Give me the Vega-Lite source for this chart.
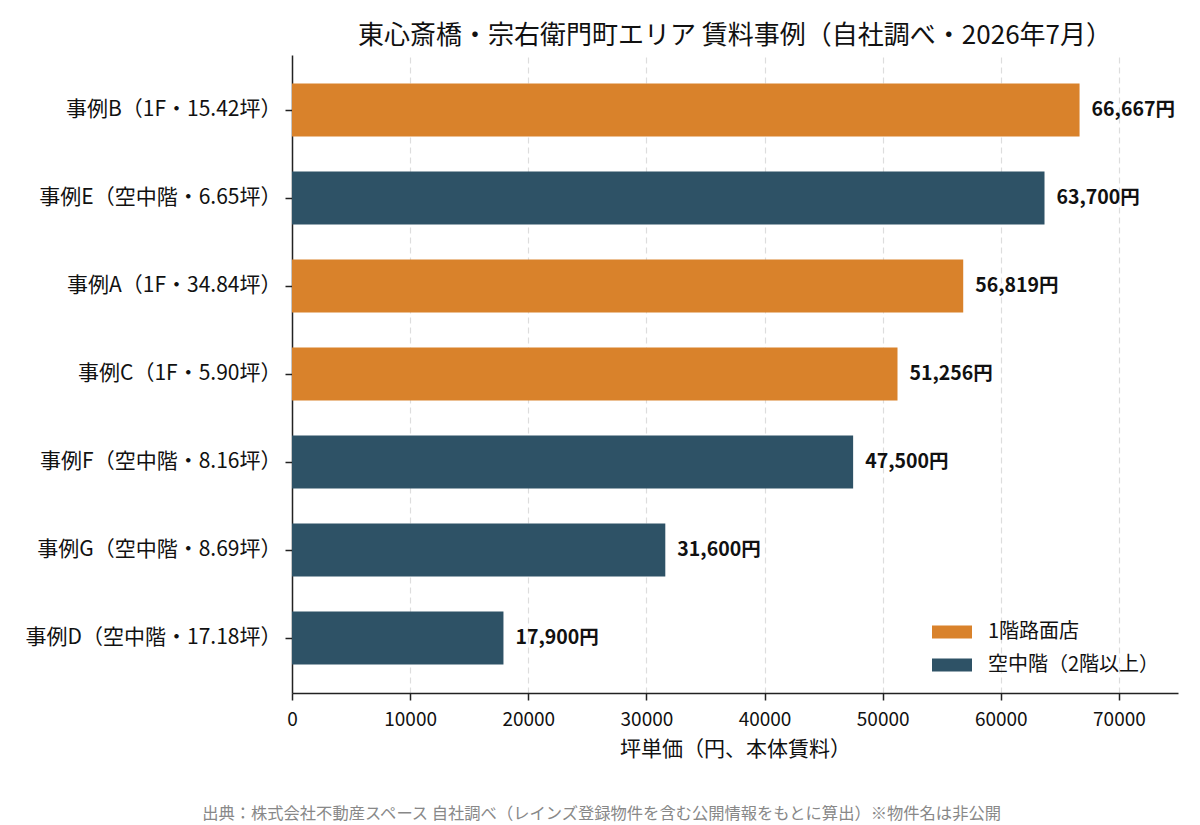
{
  "$schema": "https://vega.github.io/schema/vega-lite/v6.json",
  "padding": {"left": 25, "top": 23, "right": 10, "bottom": 4},
  "background": "white",
  "config": {
    "font": "Noto Sans CJK JP",
    "view": {"stroke": null},
    "axis": {"labelFont": "Noto Sans CJK JP", "titleFont": "Noto Sans CJK JP", "labelColor": "#111", "titleColor": "#111", "domainColor": "#222", "tickColor": "#222"}
  },
  "resolve": {"legend": {"color": "independent"}},
  "title": {
    "text": "出典：株式会社不動産スペース 自社調べ（レインズ登録物件を含む公開情報をもとに算出）※物件名は非公開",
    "orient": "bottom",
    "anchor": "middle",
    "fontSize": 16.3,
    "fontWeight": "normal",
    "color": "#888",
    "offset": 47
  },
  "vconcat": [
    {
      "width": 886,
      "height": 638,
      "title": {
        "text": "東心斎橋・宗右衛門町エリア 賃料事例（自社調べ・2026年7月）",
        "fontSize": 26,
        "fontWeight": "normal",
        "color": "#111",
        "anchor": "middle",
        "offset": 6
      },
      "data": {
        "values": [
          {"case": "事例B（1F・15.42坪）", "rent": 66667, "type": "1階路面店", "label": "66,667円"},
          {"case": "事例E（空中階・6.65坪）", "rent": 63700, "type": "空中階（2階以上）", "label": "63,700円"},
          {"case": "事例A（1F・34.84坪）", "rent": 56819, "type": "1階路面店", "label": "56,819円"},
          {"case": "事例C（1F・5.90坪）", "rent": 51256, "type": "1階路面店", "label": "51,256円"},
          {"case": "事例F（空中階・8.16坪）", "rent": 47500, "type": "空中階（2階以上）", "label": "47,500円"},
          {"case": "事例G（空中階・8.69坪）", "rent": 31600, "type": "空中階（2階以上）", "label": "31,600円"},
          {"case": "事例D（空中階・17.18坪）", "rent": 17900, "type": "空中階（2階以上）", "label": "17,900円"}
        ]
      },
      "encoding": {
        "y": {
          "field": "case",
          "type": "nominal",
          "sort": {"field": "rent", "order": "descending"},
          "scale": {"paddingInner": 0.4, "paddingOuter": 0.325},
          "axis": {"title": null, "labelFontSize": 21, "labelLimit": 500, "labelPadding": 4, "tickSize": 7, "tickWidth": 1.5, "domainWidth": 1.5, "grid": false}
        }
      },
      "layer": [
        {
          "mark": {"type": "bar"},
          "encoding": {
            "x": {
              "field": "rent",
              "type": "quantitative",
              "scale": {"domain": [0, 75000], "nice": false, "zero": true},
              "axis": {
                "title": "坪単価（円、本体賃料）",
                "titleFontSize": 21,
                "titleFontWeight": "normal",
                "titlePadding": 9,
                "labelFontSize": 19,
                "labelPadding": 10,
                "values": [0, 10000, 20000, 30000, 40000, 50000, 60000, 70000],
                "format": "d",
                "tickSize": 7,
                "tickWidth": 1.5,
                "domainWidth": 1.5,
                "grid": true,
                "gridDash": [6, 4],
                "gridColor": "#dddddd",
                "gridWidth": 1.2,
                "labelFlush": false
              }
            },
            "color": {
              "field": "type",
              "type": "nominal",
              "scale": {"domain": ["1階路面店", "空中階（2階以上）"], "range": ["#D9822B", "#2E5266"]},
              "legend": {
                "title": null,
                "orient": "bottom-right",
                "offset": 18,
                "labelFontSize": 20,
                "labelLimit": 400,
                "labelColor": "#111",
                "labelFont": "Noto Sans CJK JP",
                "symbolType": "M-1,-0.33H1V0.33H-1Z",
                "symbolSize": 1600,
                "symbolStrokeWidth": 0,
                "symbolOpacity": 1,
                "labelOffset": 16,
                "rowPadding": 3
              }
            }
          }
        },
        {
          "mark": {"type": "text", "align": "left", "dx": 12, "fontWeight": "bold", "fontSize": 19.5, "color": "#111"},
          "encoding": {
            "x": {"field": "rent", "type": "quantitative"},
            "text": {"field": "label"}
          }
        }
      ]
    }
  ]
}
